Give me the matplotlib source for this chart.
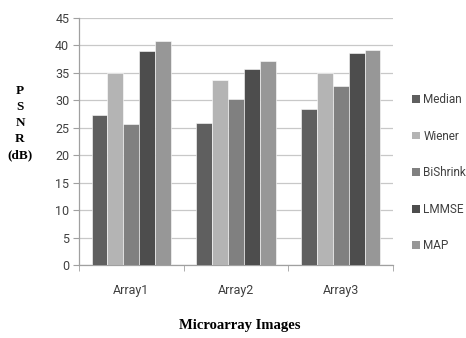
import matplotlib
matplotlib.use("Agg")
import matplotlib.pyplot as plt
from matplotlib.patches import Patch
import numpy as np

categories = ["Array1", "Array2", "Array3"]
series = ["Median", "Wiener", "BiShrink", "LMMSE", "MAP"]
median = [27.4, 25.8, 28.5]
wiener = [34.9, 33.7, 34.9]
bishrink = [25.6, 30.2, 32.7]
lmmse = [38.9, 35.7, 38.7]
map_ = [40.8, 37.2, 39.2]
values = [median, wiener, bishrink, lmmse, map_]
colors = ["#5f5f5f", "#b4b4b4", "#808080", "#4d4d4d", "#979797"]
yticks = list(range(0, 50, 5))

sans = ["Roboto", "DejaVu Sans"]

fig = plt.figure(figsize=(4.66, 3.38), dpi=100)
ax = fig.add_axes([79/466, 73/338, (393-79)/466, (265-18)/338])

x = np.arange(len(categories))
bw = 0.152
for i, (s, v, c) in enumerate(zip(series, values, colors)):
    ax.bar(x + (i - 2) * bw, v, width=bw, color=c, edgecolor="white", linewidth=0.4, zorder=3, label=s)

ax.set_xlim(-0.5, 2.5)
ax.set_ylim(0, 45)
ax.set_yticks(yticks)
ax.set_yticklabels([str(t) for t in yticks], color="#404040", fontsize=9, family=sans)
ax.yaxis.grid(True, color="#c8c8c8", linewidth=0.9, zorder=0)
ax.set_xticks(x)
ax.set_xticklabels(categories, color="#404040", fontsize=9, family=sans)
ax.tick_params(axis="x", length=0, pad=14)
ax.set_xticks([-0.5, 0.5, 1.5, 2.5], minor=True)
ax.tick_params(axis="x", which="minor", length=4, color="#a0a0a0", direction="out")
ax.tick_params(axis="y", length=4, color="#a0a0a0", pad=3)
for sp in ["top", "right"]:
    ax.spines[sp].set_visible(False)
for sp in ["left", "bottom"]:
    ax.spines[sp].set_color("#a0a0a0")
    ax.spines[sp].set_linewidth(0.9)

# y label stacked letters
for txt, yy in zip(["P", "S", "N", "R", "(dB)"], [91, 107, 123, 139, 155]):
    fig.text(20/466, 1 - yy/338, txt, ha="center", va="center",
             fontfamily="Liberation Serif", fontweight="bold", fontsize=9.5, color="black")

fig.text(240/466, 1 - 325/338, "Microarray Images", ha="center", va="center",
         fontfamily="Liberation Serif", fontweight="bold", fontsize=10.5, color="black")

handles = [Patch(facecolor=c, edgecolor="none") for c in colors]
leg = fig.legend(handles, series, loc="upper left", bbox_to_anchor=(412/466, 1 - 93/338),
                 frameon=False, prop={"family": sans, "size": 8.5}, handlelength=0.65, handleheight=0.65,
                 handletextpad=0.3, labelspacing=2.0, borderaxespad=0, borderpad=0)
for t in leg.get_texts():
    t.set_color("#404040")

fig.savefig("out.png", dpi=100)
